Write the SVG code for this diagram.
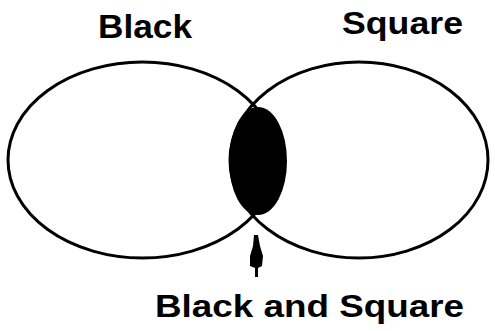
<svg xmlns="http://www.w3.org/2000/svg" width="495" height="331" viewBox="0 0 495 331">
<style>
.set{fill:none;stroke:#000;stroke-width:3}
.lbl{font-family:"Liberation Sans",Arial,sans-serif;font-weight:bold;fill:#000}
</style>
<rect width="495" height="331" fill="#fff"/>
<g id="black-set">
<ellipse class="set" cx="142.5" cy="160" rx="134.5" ry="98"/>
<text class="lbl" x="98" y="38" font-size="33" textLength="94" lengthAdjust="spacingAndGlyphs">Black</text>
</g>
<g id="square-set">
<ellipse class="set" cx="359" cy="160" rx="129" ry="98"/>
<text class="lbl" x="342" y="34" font-size="32" textLength="121" lengthAdjust="spacingAndGlyphs">Square</text>
</g>
<g id="intersection">
<ellipse cx="258" cy="161" rx="29" ry="54" fill="#000"/>
<text class="lbl" x="155" y="317" font-size="32" textLength="309" lengthAdjust="spacingAndGlyphs">Black and Square</text>
</g>
<g id="connectors">
<path d="M254,235 L258,235 L260,246 L263,256 L262,266 L258,268 L258,277 L255,277 L255,268 L250,266 L250,256 L253,246 Z" fill="#000"/>
</g>
</svg>
